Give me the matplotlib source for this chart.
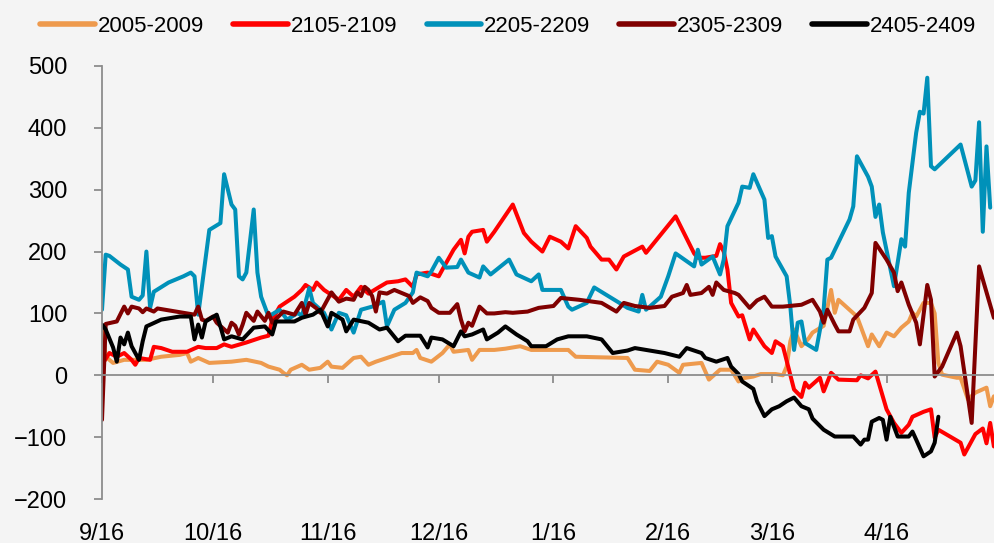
import matplotlib
matplotlib.use("Agg")
import matplotlib.pyplot as plt
import pandas as pd

plt.rcParams["font.family"] = ["Liberation Sans", "DejaVu Sans"]
plt.rcParams["axes.unicode_minus"] = True

# Spread series, x = trading day offset (calendar days) from 9/16
start = pd.Timestamp("2022-09-16")

labels = ["2005-2009", "2105-2109", "2205-2209", "2305-2309", "2405-2409"]
colors = ["#EE9A4D", "#FF0000", "#0091B9", "#800000", "#000000"]

d_2005 = [0, 1, 3, 6, 12, 16, 21, 23, 24, 26, 29, 35, 39, 43, 45, 48, 49, 50, 51, 54, 56, 59, 61, 62, 65, 68, 70,
          72, 74, 77, 81, 84, 85, 86, 89, 92, 94, 95, 99, 100, 102, 106, 109, 113, 116, 126, 128, 142, 144, 148,
          150, 153, 156, 157, 162, 164, 167, 170, 172, 173, 176, 178, 182, 184, 185, 186, 187, 189, 191, 192, 195,
          197, 198, 199, 204, 206, 207, 208, 210, 212, 214, 216, 218, 219, 220, 222, 224, 225, 226, 227, 231, 232,
          234, 236, 239, 240, 241]
v_2005 = [80, 30, 20, 25, 25, 30, 33, 36, 22, 28, 20, 22, 25, 20, 14, 9, 4, 0, 9, 17, 9, 12, 22, 14, 12, 28, 30,
          17, 22, 28, 36, 36, 41, 28, 22, 36, 50, 38, 41, 25, 41, 41, 43, 47, 41, 41, 30, 28, 9, 7,
          22, 17, 4, 17, 20, -7, 9, 9, -10, -5, -2, 2, 2, 0, 14, 55, 74, 47, 60, 69, 80,
          138, 101, 122, 95, 63, 47, 66, 47, 69, 63, 77, 87, 101, 95, 117, 117, 100, 20, 1, -4, -4,
          -39, -28, -20, -50, -34]

d_2105 = [0, 2, 4, 6, 8, 9, 10, 13, 14, 16, 19, 23, 26, 28, 31, 33, 35, 39, 43, 45, 46, 48, 50, 52, 54, 55, 57,
          58, 60, 62, 64, 66, 68, 70, 72, 75, 77, 80, 82, 84, 85, 88, 91, 92, 95, 97, 98, 99, 100, 103, 104, 106,
          111, 114, 116, 119, 121, 124, 126, 128, 131, 132, 135, 137, 139, 141, 146, 147, 155, 160, 161, 163, 166,
          167, 168, 169, 170, 172, 173, 175, 176, 179, 181, 182, 184, 187, 189, 190, 191, 194, 195, 197, 199, 204,
          205, 207, 209, 212, 214, 216, 218, 219, 222, 224, 225, 226, 232, 233, 236, 238, 239, 240, 241]
v_2105 = [17, 36, 30, 36, 25, 17, 28, 25, 46, 44, 38, 38, 46, 44, 44, 50, 46, 53, 61, 64, 90, 111, 119, 127, 138,
          146, 138, 150, 138, 130, 122, 138, 127, 143, 132, 143, 150, 152, 155, 143, 163, 166, 160, 171, 203, 219,
          197, 224, 232, 235, 216, 232, 276, 230, 216, 200, 224, 216, 205, 241, 222, 208, 187, 187, 171, 192, 208,
          198, 257, 197, 190, 190, 193, 212, 200, 171, 117, 95, 97, 58, 74, 47, 36, 55, 47, -23, -35, -12, -20,
          -4, -26, 4, -7, -8, 0, -5, 6, -55, -77, -93, -80, -67, -59, -55, -101, -88, -109, -128, -95, -86,
          -110, -77, -115]

d_2205 = [0, 1, 2, 5, 7, 8, 10, 11, 12, 13, 14, 18, 22, 24, 25, 26, 29, 32, 33, 35, 36, 37, 38, 39, 41, 42, 43,
          45, 48, 50, 53, 54, 56, 57, 60, 62, 64, 66, 68, 70, 73, 76, 77, 79, 82, 84, 85, 88, 89, 91, 93, 96, 97,
          99, 102, 103, 105, 110, 112, 116, 118, 119, 124, 126, 127, 131, 133, 142, 145, 146, 147, 148, 151, 153,
          155, 160, 161, 162, 165, 167, 168, 169, 172, 173, 175, 176, 179, 180, 181, 182, 185, 186, 187, 188, 189,
          190, 193, 195, 196, 197, 202, 203, 204, 207, 208, 209, 210, 211, 214, 216, 217, 218, 220, 221, 222, 223,
          224, 225, 232, 235, 236, 237, 238, 239, 240]
v_2205 = [106, 195, 193, 179, 171, 127, 122, 129, 200, 109, 135, 150, 160, 166, 160, 98, 235, 246, 325, 276, 268,
          160, 155, 166, 268, 166, 127, 95, 106, 90, 101, 95, 141, 117, 101, 74, 101, 97, 69, 106, 111, 119, 79,
          106, 117, 134, 166, 160, 168, 190, 174, 175, 187, 166, 158, 176, 163, 187, 163, 152, 163, 138, 138, 111,
          106, 117, 142, 109, 103, 130, 106, 111, 127, 160, 197, 176, 203, 179, 192, 163, 187, 241, 279, 305, 303,
          325, 284, 222, 225, 192, 160, 111, 41, 85, 87, 52, 41, 106, 187, 190, 252, 273, 354, 321, 305, 256, 276,
          231, 144, 220, 208, 295, 392, 426, 423, 481, 338, 333, 373, 305, 315, 409, 232, 370, 271]

d_2305 = [0, 1, 4, 6, 7, 8, 10, 11, 12, 14, 15, 20, 25, 26, 27, 28, 30, 31, 34, 35, 36, 37, 38, 39, 41, 42, 44,
          45, 46, 49, 52, 54, 55, 56, 58, 59, 62, 64, 66, 68, 69, 70, 71, 72, 73, 74, 75, 77, 79, 81, 83, 84, 86,
          88, 89, 91, 94, 96, 97, 98, 99, 100, 102, 104, 106, 109, 111, 115, 118, 122, 124, 129, 135, 139, 141,
          144, 148, 152, 154, 157, 158, 159, 162, 164, 165, 166, 168, 171, 172, 175, 177, 179, 181, 184, 189, 192,
          194, 195, 196, 198, 199, 202, 203, 206, 208, 209, 212, 214, 215, 216, 218, 220, 221, 223, 224, 225, 227,
          231, 232, 235, 237, 238, 241]
v_2305 = [-72, 83, 87, 111, 100, 111, 108, 102, 108, 103, 108, 103, 98, 111, 90, 88, 95, 85, 69, 85, 80, 66, 82,
          101, 88, 103, 88, 101, 85, 103, 98, 117, 98, 117, 108, 101, 134, 119, 124, 122, 134, 128, 143, 138, 128,
          103, 134, 132, 138, 133, 128, 117, 126, 120, 109, 101, 101, 115, 90, 71, 85, 80, 111, 100, 100, 102, 101,
          103, 109, 112, 125, 122, 117, 103, 117, 112, 109, 112, 127, 133, 146, 130, 133, 143, 130, 150, 138, 133,
          130, 109, 121, 127, 111, 111, 114, 122, 103, 85, 106, 82, 71, 71, 90, 109, 133, 214, 187, 166, 136, 150,
          114, 85, 50, 146, 122, -2, 14, 69, 47, -77, 176, 155, 93]

d_2405 = [0, 1, 3, 4, 5, 6, 7, 8, 10, 11, 12, 16, 21, 24, 25, 26, 27, 28, 31, 32, 33, 35, 38, 41, 44, 46, 47, 52,
          54, 57, 59, 61, 62, 65, 66, 68, 72, 75, 77, 80, 82, 86, 88, 89, 92, 95, 97, 98, 100, 103, 104, 107, 109,
          112, 115, 116, 120, 123, 126, 131, 135, 138, 142, 144, 149, 152, 156, 158, 162, 163, 166, 169, 170, 172,
          173, 176, 177, 179, 181, 183, 185, 187, 189, 191, 192, 195, 198, 203, 205, 206, 207, 208, 210, 211, 212,
          213, 215, 218, 219, 220, 222, 224, 225, 226]
v_2405 = [82, 74, 45, 22, 61, 50, 69, 47, 25, 55, 79, 90, 95, 95, 58, 82, 61, 87, 98, 79, 58, 63, 58, 77, 79, 66,
          87, 87, 93, 98, 106, 79, 101, 90, 71, 90, 85, 74, 77, 55, 64, 64, 45, 61, 58, 47, 71, 63, 66, 74, 58, 69,
          79, 66, 55, 47, 47, 58, 63, 63, 58, 36, 40, 44, 39, 36, 30, 44, 36, 28, 22, 28, 14, 2, -10, -22, -42, -66,
          -55, -50, -42, -36, -50, -55, -70, -88, -99, -99, -112, -104, -104, -75, -69, -72, -104, -67, -99, -99,
          -91, -104, -131, -123, -109, -67]

tick_labels = ["9/16", "10/16", "11/16", "12/16", "1/16", "2/16", "3/16", "4/16"]
tick_dates = ["2022-09-16", "2022-10-16", "2022-11-16", "2022-12-16",
              "2023-01-16", "2023-02-16", "2023-03-16", "2023-04-16"]
y_ticks = [-200, -100, 0, 100, 200, 300, 400, 500]

days = [d_2005, d_2105, d_2205, d_2305, d_2405]
values = [v_2005, v_2105, v_2205, v_2305, v_2405]

bg = "#F4F4F4"
axis_grey = "#8C8C8C"

fig = plt.figure(figsize=(9.95, 5.43), dpi=100, facecolor=bg)
ax = fig.add_axes([0.1025, 0.081, 0.8975, 0.7975], facecolor=bg)

for d, v, c, lab in zip(days, values, colors, labels):
    ax.plot(d, v, color=c, lw=2.9, label=lab, solid_joinstyle="round", solid_capstyle="round")

tick_pos = [(pd.Timestamp(t) - start).days for t in tick_dates]
end_day = (pd.Timestamp("2023-05-15") - start).days + 0.3

ax.set_xlim(0, end_day)
ax.set_ylim(-200, 500)

for side in ("top", "right"):
    ax.spines[side].set_visible(False)
ax.spines["left"].set_color(axis_grey)
ax.spines["left"].set_linewidth(1.3)
ax.spines["bottom"].set_position(("data", 0))
ax.spines["bottom"].set_color(axis_grey)
ax.spines["bottom"].set_linewidth(1.3)

ax.set_yticks(y_ticks)
ax.tick_params(axis="y", direction="out", length=6, width=1.3, color=axis_grey,
               labelsize=17, pad=19, labelcolor="black")
ax.set_xticks(tick_pos)
ax.tick_params(axis="x", direction="out", length=6, width=1.3, color=axis_grey, labelbottom=False)

sec = ax.secondary_xaxis(0)
sec.set_xticks(tick_pos, tick_labels)
sec.spines["bottom"].set_visible(False)
sec.tick_params(axis="x", length=0, pad=17, labelsize=17)

handles, labs = ax.get_legend_handles_labels()
leg = fig.legend(handles, labs, loc="upper center", bbox_to_anchor=(0.511, 1.008), ncol=5,
                 frameon=False, fontsize=16, handlelength=2.45, handletextpad=0.15,
                 columnspacing=1.3)
for line in leg.get_lines():
    line.set_linewidth(4)

fig.savefig("out.png", dpi=100, facecolor=bg)
